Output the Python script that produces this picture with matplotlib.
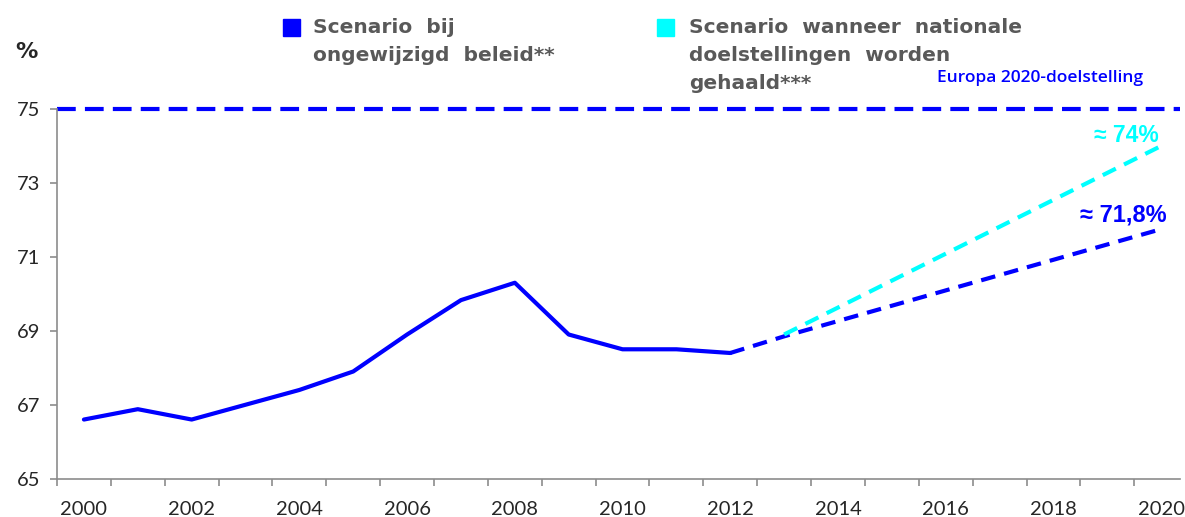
import numpy as np
import matplotlib
matplotlib.use('Agg')
import matplotlib.pyplot as plt

# observed employment rate (%)
years = [2000, 2001, 2002, 2003, 2004, 2005, 2006, 2007, 2008, 2009, 2010, 2011, 2012]
rate = [66.6, 66.88, 66.6, 67.0, 67.4, 67.9, 68.9, 69.83, 70.3, 68.9, 68.5, 68.5, 68.4]

# scenario: unchanged policy
proj_years = [2012, 2013, 2020]
proj_rate = [68.4, 68.85, 71.75]

# scenario: national targets reached
target_years = [2013, 2020]
target_rate = [68.9, 74.0]

eu_target = 75
xtick_years = list(range(2000, 2021, 2))
yticks = [65, 67, 69, 71, 73, 75]

legend1 = ['Scenario  bij', 'ongewijzigd  beleid**']
legend2 = ['Scenario  wanneer  nationale', 'doelstellingen  worden', 'gehaald***']

blue = '#0000FF'
cyan = '#00FFFF'
gray_txt = '#595959'

fig = plt.figure(figsize=(11.85, 5.17), dpi=100)
ax = fig.add_axes([0.0481, 0.0741, 0.9477, 0.7151])

ax.plot(years, rate, color=blue, lw=3, solid_capstyle='round', solid_joinstyle='round')
ax.plot(proj_years, proj_rate, color=blue, lw=3, ls=(0, (3.5, 2.2)))
ax.plot(target_years, target_rate, color=cyan, lw=3, ls=(0, (3.5, 2.2)))
ax.axhline(eu_target, color=blue, lw=3, ls=(0, (4.5, 2.2)), clip_on=False)

ax.set_xlim(1999.5, 2020.35)
ax.set_ylim(65, 75)

ax.set_yticks(yticks)
ax.set_xticks(xtick_years)
ax.set_xticks(np.arange(1999.5, 2020.5, 1), minor=True)
for s in ['top', 'right']:
    ax.spines[s].set_visible(False)
for s in ['left', 'bottom']:
    ax.spines[s].set_color('#8c8c8c')
    ax.spines[s].set_linewidth(1.2)
ax.tick_params(axis='x', which='major', length=0, pad=16)
ax.tick_params(axis='x', which='minor', length=5, color='#8c8c8c', width=1.2)
ax.tick_params(axis='y', length=5, color='#8c8c8c', width=1.2, pad=7)
for lab in ax.get_xticklabels() + ax.get_yticklabels():
    lab.set_fontfamily('Lato')
    lab.set_fontsize(14.5)
    lab.set_color('#262626')

fig.text(15 / 1185, 1 - 52 / 517, '%', fontsize=16, fontweight='bold', color='#262626',
         va='center', ha='left', family='DejaVu Sans')

# legend
fig.patches.append(plt.Rectangle((283 / 1185, 1 - 36 / 517), 17 / 1185, 17 / 517,
                                 transform=fig.transFigure, color=blue))
fig.patches.append(plt.Rectangle((657 / 1185, 1 - 36 / 517), 17 / 1185, 17 / 517,
                                 transform=fig.transFigure, color=cyan))
for i, line in enumerate(legend1):
    fig.text(313 / 1185, 1 - (33 + 28 * i) / 517, line, fontsize=14.5, fontweight='bold',
             color=gray_txt, va='baseline', ha='left', family='DejaVu Sans')
for i, line in enumerate(legend2):
    fig.text(689 / 1185, 1 - (33 + 28 * i) / 517, line, fontsize=14.5, fontweight='bold',
             color=gray_txt, va='baseline', ha='left', family='DejaVu Sans')
fig.text(937 / 1185, 1 - 78 / 517, 'Europa 2020-doelstelling', fontsize=12.5, color=blue,
         fontweight='semibold', va='center', ha='left', family='Open Sans')

ax.text(2019.95, 74.1, '≈ 74%', color=cyan, fontsize=16.5, fontweight='bold',
        ha='right', va='baseline', family='Liberation Sans')
ax.text(2020.1, 71.97, '≈ 71,8%', color=blue, fontsize=17, fontweight='bold',
        ha='right', va='baseline', family='Liberation Sans')

fig.savefig('out.png', dpi=100)
